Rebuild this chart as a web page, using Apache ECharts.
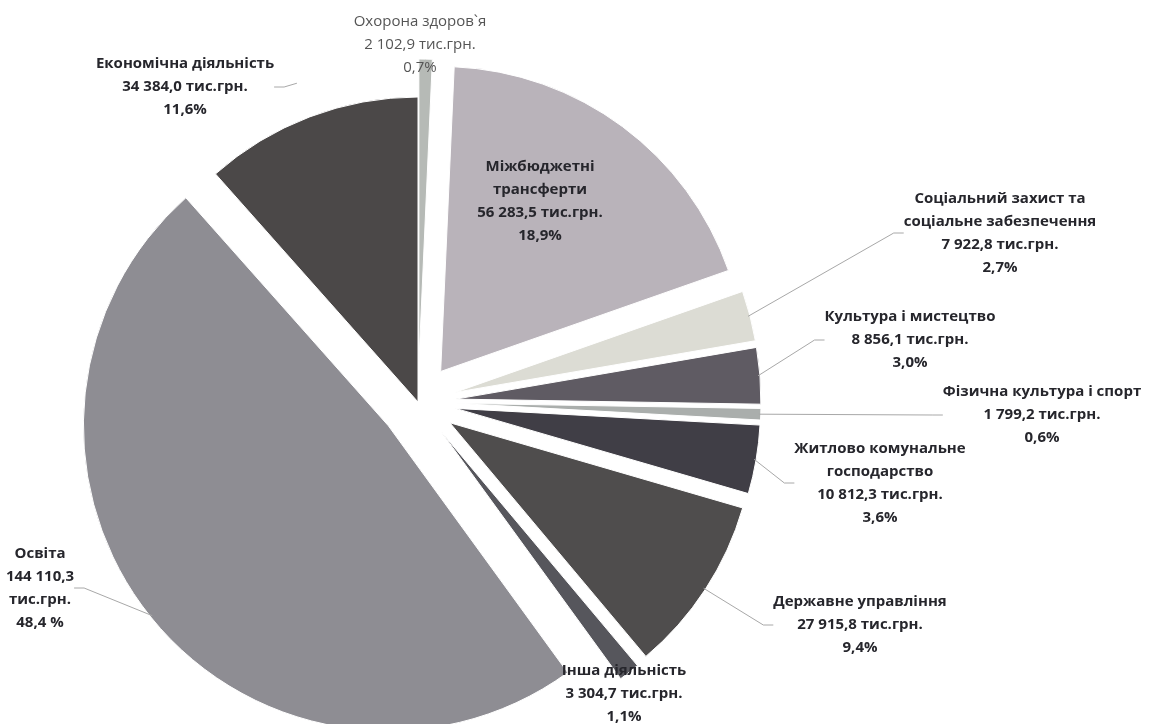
<!DOCTYPE html>
<html>
<head>
<meta charset="utf-8">
<script src="https://cdn.jsdelivr.net/npm/echarts@6/dist/echarts.min.js"></script>
<style>
  html, body { margin: 0; padding: 0; background: #fff; }
  #main { width: 1176px; height: 724px; }
</style>
</head>
<body>
<div id="main"></div>
<script>
// статті видатків, за годинниковою стрілкою від 12 години
var categories = [
    'Охорона здоров`я',
    'Міжбюджетні\nтрансферти',
    'Соціальний захист та\nсоціальне забезпечення',
    'Культура і мистецтво',
    'Фізична культура і спорт',
    'Житлово комунальне\nгосподарство',
    'Державне управління',
    'Інша діяльність',
    'Освіта',
    'Економічна діяльність'
];
// тис.грн.
var values = [2102.9, 56283.5, 7922.8, 8856.1, 1799.2, 10812.3, 27915.8, 3304.7, 144110.3, 34384.0];
var colors = ['#b6bab6', '#b9b3ba', '#dcdcd4', '#5f5b63', '#aaaeac', '#403e46', '#4f4d4d', '#56565c', '#8e8d93', '#4b4848'];

// куди поставити підписи (центр блоку тексту)
var labelPos = [
    [420, 45], [540, 201], [1000, 233], [910, 340], [1042, 415],
    [880, 483], [860, 625], [624, 694], [40, 588], [185, 87]
];
var noLine = [0, 1, 7];

function fmtNum(v) {
    var parts = v.toFixed(1).split('.');
    return parts[0].replace(/\B(?=(\d{3})+(?!\d))/g, ' ') + ',' + parts[1];
}

var chart = echarts.init(document.getElementById('main'));

var center = [418, 402];

var labelStyle = {
    show: true,
    position: 'outside',
    fontFamily: 'Open Sans',
    fontWeight: 'bold',
    fontSize: 15,
    lineHeight: 23,
    color: '#26262c',
    align: 'center',
    formatter: function (p) {
        var pct = p.percent.toFixed(1).replace('.', ',');
        if (p.dataIndex === 8) {
            return p.name + '\n' + fmtNum(p.value) + '\nтис.грн.\n' + pct + ' %';
        }
        return p.name + '\n' + fmtNum(p.value) + ' тис.грн.\n' + pct + '%';
    }
};

// видима діаграма (висунуті сектори), без підписів
var pieData = values.map(function (v, i) {
    return {
        name: categories[i],
        value: v,
        selected: i !== 9, // економічна не висунута
        itemStyle: { color: colors[i] }
    };
});

// прозорий шар тільки для підписів
var labelData = values.map(function (v, i) {
    var item = {
        name: categories[i],
        value: v,
        labelLine: { show: noLine.indexOf(i) < 0 }
    };
    if (i === 0) {
        item.label = { fontWeight: 'normal', color: '#555555' };
    }
    return item;
});

var option = {
    backgroundColor: '#fff',
    animation: false,
    series: [
        {
            type: 'pie',
            z: 2,
            center: center,
            radius: 305,
            startAngle: 90,
            clockwise: true,
            silent: true,
            selectedMode: 'multiple',
            selectedOffset: 38,
            itemStyle: { borderColor: '#fff', borderWidth: 1 },
            label: { show: false },
            labelLine: { show: false },
            data: pieData
        },
        {
            type: 'pie',
            z: 10,
            center: center,
            radius: 341,
            startAngle: 90,
            clockwise: true,
            silent: true,
            avoidLabelOverlap: false,
            itemStyle: { color: 'rgba(0,0,0,0)', borderWidth: 0 },
            label: labelStyle,
            labelLine: {
                show: true,
                length: 10,
                length2: 10,
                lineStyle: { color: '#a8a8a8', width: 1 }
            },
            labelLayout: function (params) {
                var pos = labelPos[params.dataIndex];
                return {
                    x: pos[0],
                    y: pos[1],
                    align: 'center',
                    verticalAlign: 'middle'
                };
            },
            data: labelData
        }
    ]
};

chart.setOption(option);
</script>
</body>
</html>
